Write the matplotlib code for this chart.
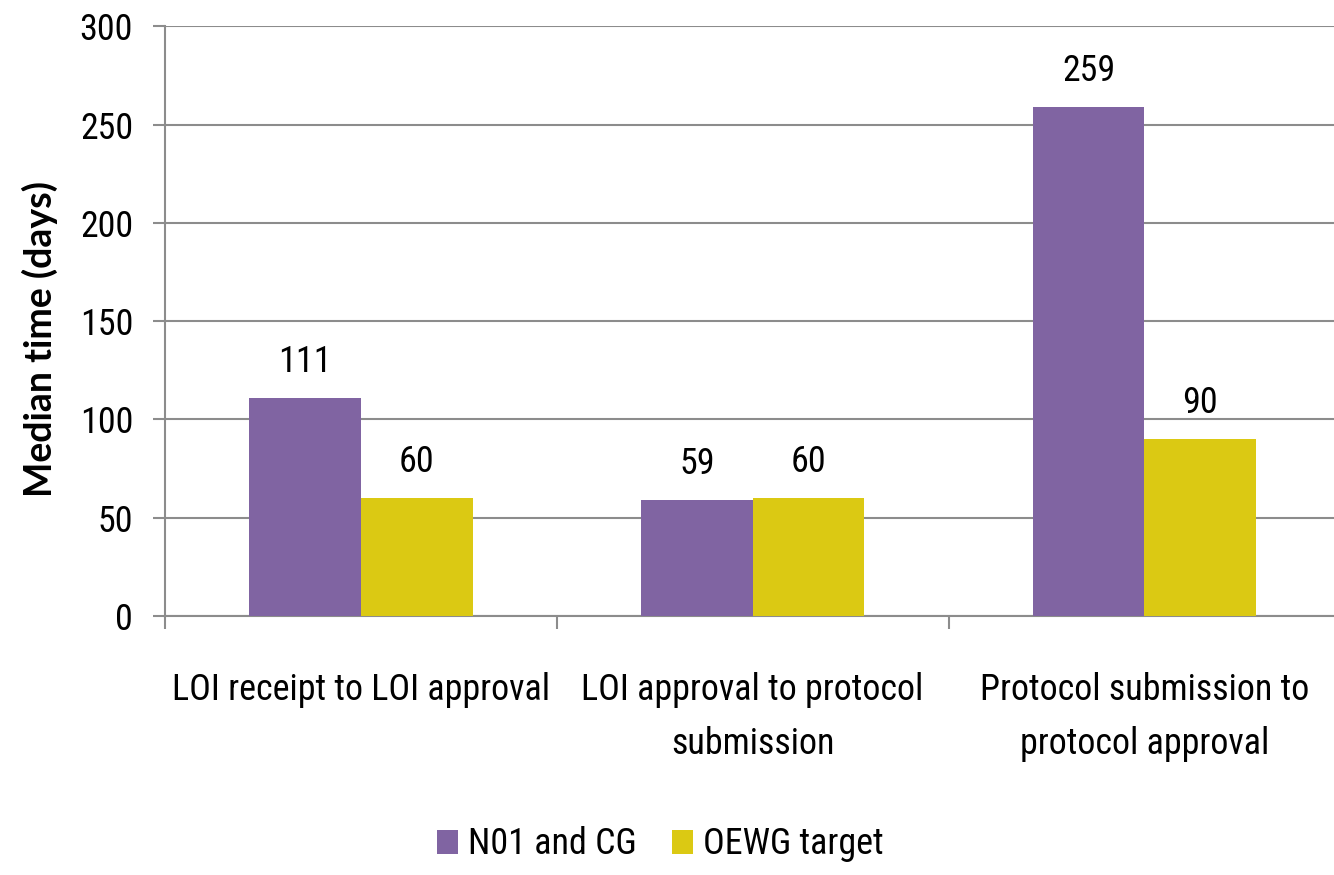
import matplotlib.pyplot as plt
import matplotlib.font_manager as fm
import numpy as np

# median days per stage of the approval process
stages = ['LOI receipt to LOI approval',
          'LOI approval to protocol\nsubmission',
          'Protocol submission to\nprotocol approval']
n01_cg = [111, 59, 259]
oewg_target = [60, 60, 90]
series_names = ['N01 and CG', 'OEWG target']
colors = ['#8064A2', '#DBC913']

grid_col = '#8C8C8C'


def narrow_font():
    """Pick the narrowest regular sans face that is installed."""
    names = {f.name for f in fm.fontManager.ttflist}
    for n in ['Liberation Sans Narrow', 'Roboto Condensed', 'Open Sans Condensed',
              'Noto Sans Condensed', 'DejaVu Sans Condensed', 'Arial Narrow']:
        if n in names:
            return n, 'normal'
    for f in fm.fontManager.ttflist:
        if (str(f.stretch) in ('condensed', 'semi-condensed', 'extra-condensed')
                and f.style == 'normal' and f.weight in (400, 'normal', 'regular')
                and 'Mono' not in f.name and 'Serif' not in f.name):
            return f.name, f.stretch
    return 'Liberation Sans', 'normal'


fam, stretch = narrow_font()

fig = plt.figure(figsize=(13.34, 8.75), dpi=100)

# size the narrow face so the first category label spans ~377 px
renderer = fig.canvas.get_renderer()
probe = fig.text(0, 0, stages[0], family=fam, stretch=stretch, fontsize=20)
fs = 20 * 377 / probe.get_window_extent(renderer).width
probe.remove()
fp = dict(family=fam, stretch=stretch, fontsize=fs)

ax = fig.add_axes([0.1237, 0.296, 0.881, 0.674])

x = np.arange(len(stages))
width = 0.285

b1 = ax.bar(x - width / 2, n01_cg, width, color=colors[0], label=series_names[0], zorder=3)
b2 = ax.bar(x + width / 2, oewg_target, width, color=colors[1], label=series_names[1], zorder=3)

for bars in (b1, b2):
    for rect in bars:
        h = rect.get_height()
        ax.annotate(f'{h:g}', (rect.get_x() + rect.get_width() / 2, h),
                    xytext=(0, 13), textcoords='offset points',
                    ha='center', va='bottom', **fp)

ax.set_xlim(-0.5, len(stages) - 0.5)
ax.set_ylim(0, 300)
ax.set_yticks(np.arange(0, 301, 50))
ax.yaxis.grid(True, color=grid_col, linewidth=1.5, zorder=0)

# boundary ticks between categories, labels at the centres
ax.set_xticks(np.arange(-0.5, len(stages)), labels=[''] * (len(stages) + 1))
ax.set_xticks(x, labels=stages, minor=True)
ax.tick_params(axis='x', which='major', length=9, width=1.5, color=grid_col, direction='out')
ax.tick_params(axis='x', which='minor', length=0, pad=40)
ax.tick_params(axis='y', length=9, width=1.5, color=grid_col, pad=14)

for lab in ax.get_xticklabels(minor=True) + ax.get_yticklabels():
    lab.set_fontsize(fs)
    lab.set_family(fam)
    lab.set_stretch(stretch)
    lab.set_linespacing(1.65)

for side in ('top', 'right'):
    ax.spines[side].set_visible(False)
for side in ('left', 'bottom'):
    ax.spines[side].set_color(grid_col)
    ax.spines[side].set_linewidth(1.5)

ax.set_ylabel('Median time (days)', fontsize=27, fontweight='bold', family='Lato')
ax.yaxis.set_label_coords(-0.091, 0.47)

fig.legend(loc='center', bbox_to_anchor=(0.495, 0.035), ncol=2, frameon=False,
           prop={'family': fam, 'stretch': stretch, 'size': fs},
           handlelength=0.57, handleheight=0.66, handletextpad=0.28, columnspacing=1.0)

fig.savefig('out.png', dpi=100)
